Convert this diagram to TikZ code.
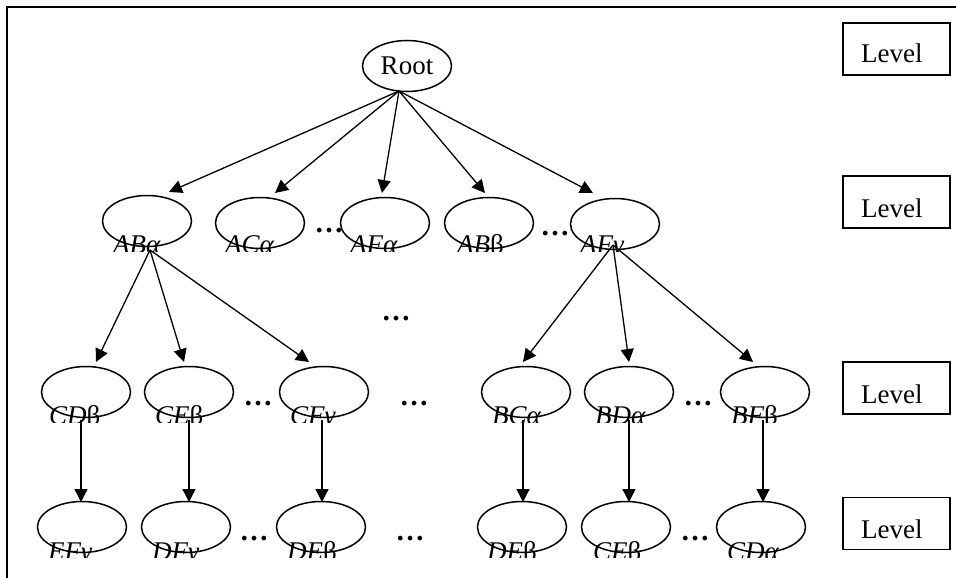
\documentclass[tikz,border=0pt]{standalone}
\usepackage{fontspec}
\setmainfont{Liberation Serif}
\usetikzlibrary{shapes.geometric,arrows.meta}
\newcommand{\bigfont}{\fontsize{27}{32}\selectfont}
\newcommand{\dotfont}{\fontsize{29}{32}\selectfont}
\tikzset{
  elli/.style={ellipse, draw, line width=1.5pt, minimum width=89pt, minimum height=51pt, inner sep=0pt},
  lbl/.style={anchor=base west, inner sep=0pt, font=\bigfont\itshape},
  dotsnode/.style={anchor=base, inner sep=0pt, font=\dotfont\bfseries},
  lvbox/.style={draw, line width=1.3pt, minimum width=107pt, minimum height=52pt, inner sep=0pt},
  lvtext/.style={anchor=base west, inner sep=0pt, font=\bigfont},
  arr/.style={line width=1.3pt, -{Triangle[length=13pt,width=13pt]}},
  frameline/.style={line width=1.4pt}
}
\begin{document}
\begin{tikzpicture}[x=1pt,y=-1pt]
\useasboundingbox (0,0) rectangle (956,578);
% frame
\coordinate (fbl) at (7,578);
\coordinate (ftl) at (7,7);
\coordinate (ftr) at (956,7);
\draw[frameline] (fbl) -- (ftl) -- (ftr);

% level boxes
\node[lvbox] (lb0) at (896.5,49) {};
\node[lvbox] (lb1) at (896.5,202) {};
\node[lvbox] (lb2) at (896.5,388) {};
\node[lvbox] (lb3) at (896.5,523.5) {};
\node[lvtext] (lt0) at (861,63) {Level};
\node[lvtext] (lt1) at (861,217) {Level};
\node[lvtext] (lt2) at (861,403) {Level};
\node[lvtext] (lt3) at (861,538) {Level};

% root
\node[elli, font=\bigfont] (root) at (407,66) {Root};
\coordinate (rs) at (399,91);

% level 1
\node[elli] (ABa) at (147,221) {};
\node[elli] (ACa) at (260,223) {};
\node[elli] (AFa) at (385,223) {};
\node[elli] (ABb) at (489,223) {};
\node[elli] (AFg) at (615,224) {};
\begin{scope}
\clip (0,0) rectangle (956,251.5);
\node[lbl] (ABa-l) at (113,253) {ABα};
\node[lbl] (ACa-l) at (225,253) {ACα};
\node[lbl] (AFa-l) at (350,253) {AFα};
\node[lbl] (ABb-l) at (457,253) {AB\upshape β};
\node[lbl] (AFg-l) at (580,253) {AFγ};
\end{scope}
\node[dotsnode] (d1a) at (329,232) {…};
\node[dotsnode] (d1b) at (555,235) {…};
\node[dotsnode] (dmid) at (396,320) {…};

\coordinate (tABa) at (169,192);
\coordinate (tACa) at (275,193);
\coordinate (tAFa) at (382,193);
\coordinate (tABb) at (485,193);
\coordinate (tAFg) at (593,193);
\draw[arr] (rs) -- (tABa);
\draw[arr] (rs) -- (tACa);
\draw[arr] (rs) -- (tAFa);
\draw[arr] (rs) -- (tABb);
\draw[arr] (rs) -- (tAFg);

% level 2
\node[elli] (CDb) at (86,392) {};
\node[elli] (CEb) at (189,392) {};
\node[elli] (CFg) at (324,392) {};
\node[elli] (BCa) at (526,392) {};
\node[elli] (BDa) at (629,392) {};
\node[elli] (BFb) at (765,392) {};
\begin{scope}
\clip (0,0) rectangle (956,422);
\node[lbl] (CDb-l) at (49,424) {CD\upshape β};
\node[lbl] (CEb-l) at (155,424) {CE\upshape β};
\node[lbl] (CFg-l) at (290,424) {CFγ};
\node[lbl] (BCa-l) at (492,424) {BCα};
\node[lbl] (BDa-l) at (595,424) {BDα};
\node[lbl] (BFb-l) at (731,424) {BF\upshape β};
\end{scope}
\node[dotsnode] (d2a) at (258,405) {…};
\node[dotsnode] (d2b) at (414,405) {…};
\node[dotsnode] (d2c) at (698,405) {…};

\coordinate (sABa) at (150,250);
\coordinate (sAFg) at (613,245);
\coordinate (tCDb) at (96,362);
\coordinate (tCEb) at (184,362);
\coordinate (tCFg) at (309,362);
\coordinate (tBCa) at (523,362);
\coordinate (tBDa) at (629,362);
\coordinate (tBFb) at (753,362);
\draw[arr] (sABa) -- (tCDb);
\draw[arr] (sABa) -- (tCEb);
\draw[arr] (sABa) -- (tCFg);
\draw[arr] (sAFg) -- (tBCa);
\draw[arr] (sAFg) -- (tBDa);
\draw[arr] (sAFg) -- (tBFb);

% level 3
\node[elli] (EFg) at (82,527) {};
\node[elli] (DFg) at (186,527) {};
\node[elli] (DEb) at (321,527) {};
\node[elli] (DEb2) at (522,527) {};
\node[elli] (CEb2) at (626,527) {};
\node[elli] (CDa) at (761,527) {};
\begin{scope}
\clip (0,0) rectangle (956,557);
\node[lbl] (EFg-l) at (48,560) {EFγ};
\node[lbl] (DFg-l) at (152,560) {DFγ};
\node[lbl] (DEb-l) at (287,560) {DE\upshape β};
\node[lbl] (DEb2-l) at (487,560) {DE\upshape β};
\node[lbl] (CEb2-l) at (593,560) {CE\upshape β};
\node[lbl] (CDa-l) at (727,560) {CDα};
\end{scope}
\node[dotsnode] (d3a) at (254,540) {…};
\node[dotsnode] (d3b) at (410,540) {…};
\node[dotsnode] (d3c) at (695,540) {…};

\foreach \x/\s/\t in {81/CDb/EFg,189/CEb/DFg,322/CFg/DEb,523/BCa/DEb2,629/BDa/CEb2,763/BFb/CDa}{
  \coordinate (s\s) at (\x,420);
  \coordinate (t\t) at (\x,502);
  \draw[arr] (s\s) -- (t\t);
}
\end{tikzpicture}
\end{document}
